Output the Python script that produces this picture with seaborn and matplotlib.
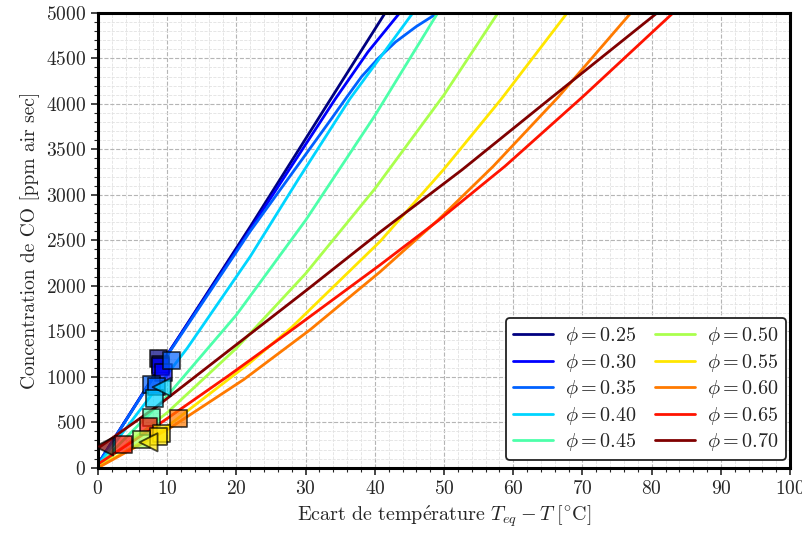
import numpy as np
import pandas as pd
import matplotlib
matplotlib.use("Agg")
import matplotlib.pyplot as plt
from matplotlib.ticker import MultipleLocator
import seaborn as sns

sns.set_style("ticks")
plt.rcParams['font.family'] = ['serif']
plt.rcParams['font.serif'] = ['cmr10', 'DejaVu Serif']
plt.rcParams['mathtext.fontset'] = 'cm'
plt.rcParams['axes.formatter.use_mathtext'] = True

# equivalence ratios and their curves (x = Teq - T, y = CO concentration)
phis = [0.25, 0.30, 0.35, 0.40, 0.45, 0.50, 0.55, 0.60, 0.65, 0.70]

x_025 = [0, 10.5, 22.0, 33.6, 41.5]
y_025 = [40, 1300, 2650, 4050, 5000]
x_030 = [0, 10.5, 22.0, 34.3, 39.0, 43.6]
y_030 = [40, 1300, 2620, 4055, 4570, 5000]
x_035 = [0, 10.5, 22.0, 33.8, 36.0, 38.1, 40.5, 43.0, 46.0, 49.1]
y_035 = [40, 1290, 2600, 3843, 4080, 4300, 4500, 4680, 4850, 5000]
x_040 = [0, 12.9, 22.0, 28.9, 36.4, 45.5]
y_040 = [30, 1315, 2322, 3165, 4055, 5000]
x_045 = [0, 10, 20, 30, 40, 49.1]
y_045 = [20, 790, 1680, 2720, 3870, 5000]
x_050 = [0, 10, 20, 30, 40, 50, 57.8]
y_050 = [10, 606, 1314, 2134, 3066, 4099, 5000]
x_055 = [0, 9.4, 22.0, 28.0, 40.75, 49.9, 58.3, 67.8]
y_055 = [5, 418, 1157, 1545, 2487, 3275, 4055, 5000]
x_060 = [0, 10.4, 21.1, 30.6, 40.75, 49.2, 57.1, 66.5, 77.0]
y_060 = [0, 437, 972, 1514, 2153, 2728, 3313, 4074, 5000]
x_065 = [0, 9.4, 18.6, 27.7, 40.75, 49.2, 58.8, 70.1, 83.1]
y_065 = [40, 510, 998, 1498, 2229, 2719, 3314, 4082, 5000]
x_070 = [0, 8.5, 30.2, 40.75, 52.6, 65.3, 80.8]
y_070 = [215, 674, 1956, 2590, 3275, 4055, 5000]

curves_x = [x_025, x_030, x_035, x_040, x_045, x_050, x_055, x_060, x_065, x_070]
curves_y = [y_025, y_030, y_035, y_040, y_045, y_050, y_055, y_060, y_065, y_070]

# measured points
sq_phi = [0.25, 0.25, 0.30, 0.30, 0.35, 0.35, 0.35, 0.40, 0.45, 0.60, 0.65, 0.65, 0.55, 0.55, 0.50]
sq_x = [8.7, 9.1, 9.0, 9.4, 10.6, 7.8, 8.5, 8.1, 7.8, 11.7, 7.3, 3.7, 9.2, 8.7, 6.3]
sq_y = [1205, 1135, 1110, 1045, 1176, 912, 895, 760, 557, 537, 455, 253, 374, 344, 315]
tri_phi = [0.40, 0.55, 0.70]
tri_x = [9.2, 7.3, 0.9]
tri_y = [886, 280, 234]

colors = plt.cm.jet(np.linspace(0, 1, len(phis)))
pal = {p: colors[i] for i, p in enumerate(phis)}

fig = plt.figure(figsize=(8.03, 5.34), dpi=100)
ax = fig.add_axes([0.122, 0.124, 0.862, 0.852])

for i, p in enumerate(phis):
    sns.lineplot(x=curves_x[i], y=curves_y[i], color=colors[i], lw=2,
                 label=r"$\phi = %.2f$" % p, ax=ax, sort=False)

dfs = pd.DataFrame({'x': sq_x, 'y': sq_y, 'phi': sq_phi})
dft = pd.DataFrame({'x': tri_x, 'y': tri_y, 'phi': tri_phi})
sns.scatterplot(data=dfs, x='x', y='y', hue='phi', palette=pal, marker='s', s=150,
                alpha=0.7, edgecolor='k', linewidth=1.3, legend=False, zorder=3, ax=ax)
sns.scatterplot(data=dft, x='x', y='y', hue='phi', palette=pal, marker='<', s=170,
                alpha=0.7, edgecolor='k', linewidth=1.3, legend=False, zorder=3, ax=ax)

ax.set_xlim(0, 100)
ax.set_ylim(0, 5000)
ax.xaxis.set_major_locator(MultipleLocator(10))
ax.xaxis.set_minor_locator(MultipleLocator(2))
ax.yaxis.set_major_locator(MultipleLocator(500))
ax.yaxis.set_minor_locator(MultipleLocator(100))
ax.grid(which='major', ls='--', color='#b5b5b5', lw=0.8)
ax.grid(which='minor', ls='--', color='#e2e2e2', lw=0.6)
ax.set_axisbelow(True)
for s in ax.spines.values():
    s.set_linewidth(2.2)
    s.set_color('k')
ax.tick_params(which='major', length=5, width=1.2, labelsize=14, direction='out')
ax.tick_params(which='minor', length=3, width=0.8, direction='out')

ax.set_xlabel(r"$\mathrm{Ecart\ de\ temp\acute{e}rature}\ T_{eq} - T\ [{}^{\circ}\mathrm{C}]$", fontsize=14.5)
ax.set_ylabel("Concentration de CO [ppm air sec]", fontsize=14)

leg = ax.legend(ncol=2, loc='lower right', bbox_to_anchor=(0.994, 0.017), borderaxespad=0,
                fontsize=14.5, frameon=True, fancybox=True, handlelength=2.0,
                handletextpad=0.6, columnspacing=0.9, borderpad=0.35, labelspacing=0.22)
leg.get_frame().set_edgecolor('#222222')
leg.get_frame().set_linewidth(1.3)
leg.get_frame().set_alpha(1)

fig.savefig("out.png", dpi=100)
